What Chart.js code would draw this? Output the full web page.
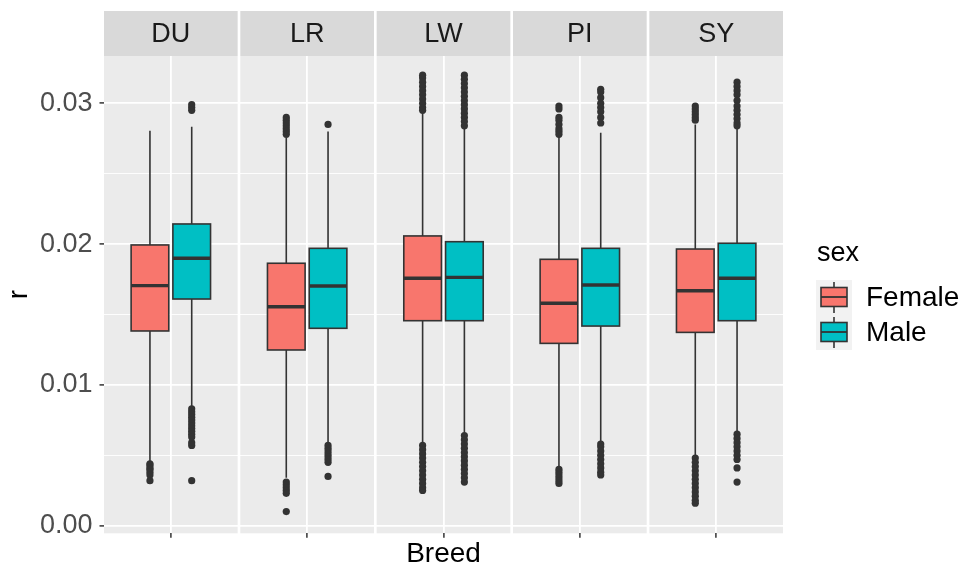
<!DOCTYPE html>
<html>
<head>
<meta charset="utf-8">
<script src="https://cdn.jsdelivr.net/npm/chart.js@4.4.1/dist/chart.umd.min.js"></script>
<style>
  html, body { margin: 0; padding: 0; background: #fff; }
  canvas { display: block; }
</style>
</head>
<body>
<canvas id="chart" width="962" height="565"></canvas>
<script>
/* ---------- Data ---------- */
const breeds = ['DU', 'LR', 'LW', 'PI', 'SY'];
const sexes = ['Female', 'Male'];
const sexColors = ['#F8766D', '#00BFC4'];
const yTicks = [0, 0.005, 0.01, 0.015, 0.02, 0.025, 0.03];

// box stats per breed: lower whisker, Q1, median, Q3, upper whisker
const femaleLow  = [0.0046, 0.0034, 0.0059, 0.0042, 0.0050];
const femaleQ1   = [0.01383, 0.01248, 0.01456, 0.01295, 0.01373];
const femaleMed  = [0.01705, 0.01555, 0.01757, 0.01580, 0.01669];
const femaleQ3   = [0.01994, 0.01864, 0.02058, 0.01892, 0.01965];
const femaleHigh = [0.02805, 0.02755, 0.02930, 0.02760, 0.02850];

const maleLow  = [0.0085, 0.0059, 0.0066, 0.0060, 0.0067];
const maleQ1   = [0.01610, 0.01402, 0.01456, 0.01418, 0.01456];
const maleMed  = [0.01899, 0.01702, 0.01764, 0.01710, 0.01757];
const maleQ3   = [0.02143, 0.01970, 0.02017, 0.01970, 0.02006];
const maleHigh = [0.02834, 0.02800, 0.02820, 0.02790, 0.02830];

const femaleOutliers = [
  [0.0044, 0.0043, 0.0041, 0.0040, 0.0038, 0.0036, 0.0032],
  [0.0290, 0.0288, 0.0286, 0.0284, 0.0282, 0.0280, 0.0278,
   0.0031, 0.0029, 0.0027, 0.0025, 0.0023, 0.0010],
  [0.0320, 0.0318, 0.0315, 0.0312, 0.0309, 0.0306, 0.0303, 0.0300, 0.0297, 0.0295,
   0.0057, 0.0054, 0.0051, 0.0048, 0.0045, 0.0042, 0.0039, 0.0036, 0.0033, 0.0030, 0.0027, 0.0025],
  [0.0298, 0.0296, 0.0290, 0.0288, 0.0285, 0.0282, 0.0280, 0.0278,
   0.0040, 0.0038, 0.0036, 0.0034, 0.0032, 0.0030],
  [0.0298, 0.0296, 0.0294, 0.0292, 0.0290, 0.0288,
   0.0048, 0.0045, 0.0042, 0.0039, 0.0036, 0.0033, 0.0030, 0.0027, 0.0024, 0.0021, 0.0018, 0.0016]
];
const maleOutliers = [
  [0.0299, 0.0297, 0.0295,
   0.0083, 0.0081, 0.0079, 0.0077, 0.0075, 0.0073, 0.0071, 0.0069, 0.0067, 0.0065, 0.0063,
   0.0059, 0.0057, 0.0032],
  [0.0285,
   0.0057, 0.0055, 0.0053, 0.0051, 0.0049, 0.0047, 0.0045, 0.0035],
  [0.0320, 0.0317, 0.0314, 0.0311, 0.0308, 0.0305, 0.0302, 0.0299, 0.0296, 0.0293, 0.0290, 0.0287, 0.0284,
   0.0064, 0.0061, 0.0058, 0.0055, 0.0052, 0.0049, 0.0046, 0.0043, 0.0040, 0.0037, 0.0034, 0.0031],
  [0.0310, 0.0308, 0.0304, 0.0300, 0.0297, 0.0294, 0.0290, 0.0286,
   0.0058, 0.0056, 0.0053, 0.0050, 0.0047, 0.0044, 0.0041, 0.0038, 0.0036],
  [0.0315, 0.0312, 0.0309, 0.0306, 0.0302, 0.0298, 0.0295, 0.0292, 0.0289, 0.0286, 0.0284,
   0.0065, 0.0062, 0.0059, 0.0056, 0.0053, 0.0050, 0.0047, 0.0041, 0.0031]
];

/* ---------- Facet geometry (in x-scale units) ---------- */
const PANEL = 1.2;        // each facet spans 0.6 .. 1.4 around its single category
const GAP = 0.024;        // white spacing between facets
const DODGE = 0.1875;
const BOX_HALF = 0.169;
const STRIP_TOP = 11;
const FONT = '"Liberation Sans", Arial, sans-serif';

const panelStart = i => i * (PANEL + GAP);
const panelCenter = i => panelStart(i) + PANEL / 2;
const boxX = (i, s) => panelCenter(i) + (s === 0 ? -DODGE : DODGE);

const stats = [
  { low: femaleLow, q1: femaleQ1, med: femaleMed, q3: femaleQ3, high: femaleHigh },
  { low: maleLow, q1: maleQ1, med: maleMed, q3: maleQ3, high: maleHigh }
];
const outliers = [femaleOutliers, maleOutliers];

const isMajor = v => Math.abs(v * 100 - Math.round(v * 100)) < 1e-6;

const facetPlugin = {
  id: 'facets',
  beforeDraw(chart) {
    const { ctx, chartArea: a, scales: { x } } = chart;
    ctx.save();
    ctx.fillStyle = '#fff';
    ctx.fillRect(0, 0, chart.width, chart.height);
    breeds.forEach((b, i) => {
      const x0 = x.getPixelForValue(panelStart(i));
      const x1 = x.getPixelForValue(panelStart(i) + PANEL);
      ctx.fillStyle = '#EBEBEB';
      ctx.fillRect(x0, a.top, x1 - x0, a.bottom - a.top);
      ctx.fillStyle = '#D9D9D9';
      ctx.fillRect(x0, STRIP_TOP, x1 - x0, a.top - STRIP_TOP);
      ctx.fillStyle = '#1A1A1A';
      ctx.font = '27px ' + FONT;
      ctx.textAlign = 'center';
      ctx.textBaseline = 'middle';
      ctx.fillText(b, (x0 + x1) / 2, (STRIP_TOP + a.top) / 2 + 1);
    });
    ctx.restore();
  },
  beforeDatasetsDraw(chart) {
    const { ctx, scales: { x, y } } = chart;
    ctx.save();
    ctx.strokeStyle = '#333333';
    breeds.forEach((b, i) => {
      [0, 1].forEach(s => {
        const st = stats[s];
        const cx = x.getPixelForValue(boxX(i, s));
        const l = x.getPixelForValue(boxX(i, s) - BOX_HALF);
        const r = x.getPixelForValue(boxX(i, s) + BOX_HALF);
        const yLow = y.getPixelForValue(st.low[i]);
        const yQ1 = y.getPixelForValue(st.q1[i]);
        const yMed = y.getPixelForValue(st.med[i]);
        const yQ3 = y.getPixelForValue(st.q3[i]);
        const yHigh = y.getPixelForValue(st.high[i]);
        ctx.lineWidth = 1.6;
        ctx.beginPath();
        ctx.moveTo(cx, yLow); ctx.lineTo(cx, yQ1);
        ctx.moveTo(cx, yQ3); ctx.lineTo(cx, yHigh);
        ctx.stroke();
        ctx.fillStyle = sexColors[s];
        ctx.fillRect(l, yQ3, r - l, yQ1 - yQ3);
        ctx.strokeRect(l, yQ3, r - l, yQ1 - yQ3);
        ctx.lineWidth = 3.4;
        ctx.beginPath();
        ctx.moveTo(l, yMed); ctx.lineTo(r, yMed);
        ctx.stroke();
      });
    });
    ctx.restore();
  },
  afterDraw(chart) {
    const ctx = chart.ctx;
    ctx.save();
    ctx.fillStyle = '#000';
    ctx.font = '27px ' + FONT;
    ctx.textAlign = 'left';
    ctx.textBaseline = 'alphabetic';
    ctx.fillText('sex', 817, 261);
    // legend keys
    ctx.fillStyle = '#F2F2F2';
    ctx.fillRect(816, 280, 36, 70);
    sexes.forEach((name, s) => {
      const top = 280 + s * 35;
      const cx = 834;
      ctx.strokeStyle = '#333333';
      ctx.lineWidth = 1.6;
      ctx.beginPath();
      ctx.moveTo(cx, top + 2); ctx.lineTo(cx, top + 33);
      ctx.stroke();
      ctx.fillStyle = sexColors[s];
      ctx.fillRect(821, top + 7.5, 26, 19);
      ctx.strokeRect(821, top + 7.5, 26, 19);
      ctx.lineWidth = 1.8;
      ctx.beginPath();
      ctx.moveTo(821, top + 17); ctx.lineTo(847, top + 17);
      ctx.stroke();
      ctx.fillStyle = '#000';
      ctx.font = '28px ' + FONT;
      ctx.textBaseline = 'middle';
      ctx.fillText(name, 866, top + 18);
    });
    ctx.restore();
  }
};

const datasets = [0, 1].map(s => ({
  label: sexes[s],
  data: breeds.flatMap((b, i) => outliers[s][i].map(v => ({ x: boxX(i, s), y: v }))),
  pointRadius: 3.6,
  pointBackgroundColor: '#333333',
  pointBorderWidth: 0,
  showLine: false
}));

new Chart(document.getElementById('chart'), {
  type: 'scatter',
  data: { datasets },
  options: {
    responsive: false,
    devicePixelRatio: 1,
    animation: false,
    layout: { padding: { top: 56, right: 179, bottom: 0, left: 0 } },
    plugins: { legend: { display: false }, tooltip: { enabled: false } },
    scales: {
      x: {
        type: 'linear',
        min: 0,
        max: panelStart(breeds.length - 1) + PANEL,
        afterBuildTicks: s => { s.ticks = breeds.map((b, i) => ({ value: panelCenter(i) })); },
        afterFit: s => { s.height = 31.7; },
        ticks: { callback: () => '', padding: 0 },
        grid: { color: '#FFFFFF', lineWidth: 1.8, tickColor: '#333333', tickWidth: 1.5, tickLength: 4.5 },
        border: { display: false },
        title: {
          display: true, text: 'Breed', color: '#000',
          font: { family: FONT, size: 28, lineHeight: 0.8 }, padding: { top: 0, bottom: 0 }
        }
      },
      y: {
        min: -0.00054,
        max: 0.03336,
        afterBuildTicks: s => { s.ticks = yTicks.map(v => ({ value: v })); },
        afterFit: s => { s.width = 104; },
        ticks: {
          autoSkip: false,
          padding: 7,
          color: '#4D4D4D',
          font: { family: FONT, size: 27 },
          callback: v => isMajor(v) ? v.toFixed(2) : ''
        },
        grid: {
          color: '#FFFFFF',
          lineWidth: c => isMajor(c.tick.value) ? 1.8 : 0.9,
          tickColor: c => isMajor(c.tick.value) ? '#333333' : 'rgba(0,0,0,0)',
          tickWidth: 1.5,
          tickLength: 4.5
        },
        border: { display: false },
        title: {
          display: true, text: 'r', color: '#000',
          font: { family: FONT, size: 28, lineHeight: 1 }, padding: { top: 5, bottom: 0 }
        }
      }
    }
  },
  plugins: [facetPlugin]
});
</script>
</body>
</html>
